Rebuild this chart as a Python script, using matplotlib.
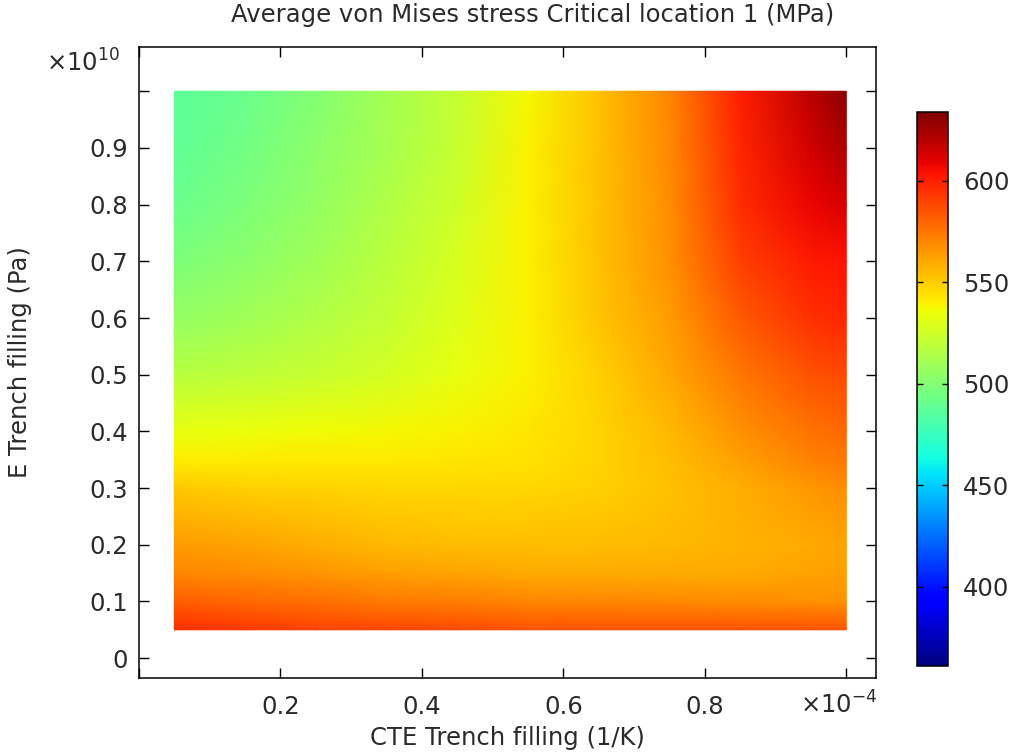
import numpy as np
import matplotlib.pyplot as plt

# CTE (x1e-4 1/K) and E (x1e10 Pa) grid of the sweep
cte = [0.05, 0.15, 0.25, 0.35, 0.45, 0.55, 0.65, 0.75, 0.85, 0.95, 1.0]
e_mod = [0.05, 0.1, 0.15, 0.2, 0.3, 0.35, 0.4, 0.5, 0.6, 0.7, 0.8, 0.9, 1.0]

# average von Mises stress (MPa), rows follow e_mod (bottom -> top)
stress = [
    [596, 593, 590, 589, 588, 586, 585, 585, 585, 585, 585],
    [582, 579, 577, 574, 573, 571, 571, 570, 568, 567, 567],
    [571, 568, 566, 563, 562, 560, 560, 560, 560, 562, 563],
    [564, 562, 559, 556, 555, 555, 555, 556, 558, 560, 562],
    [551, 549, 548, 547, 547, 547, 549, 553, 559, 565, 568],
    [541, 541, 542, 542, 543, 544, 548, 555, 563, 572, 575],
    [533, 534, 536, 538, 540, 543, 548, 556, 567, 576, 579],
    [517, 519, 523, 527, 533, 540, 549, 561, 575, 585, 588],
    [506, 510, 515, 522, 530, 540, 552, 564, 583, 595, 598],
    [498, 503, 510, 518, 528, 540, 553, 567, 591, 601, 604],
    [492, 498, 506, 515, 525, 540, 553, 568, 596, 608, 613],
    [488, 495, 503, 512, 523, 540, 553, 570, 598, 614, 623],
    [487, 492, 500, 511, 522, 538, 553, 571, 600, 620, 631],
]

c_min, c_max = 361, 634
x_ticks = [0.0, 0.2, 0.4, 0.6, 0.8, 1.0]
x_labels = ['', '0.2', '0.4', '0.6', '0.8', '']
y_ticks = [0.0, 0.1, 0.2, 0.3, 0.4, 0.5, 0.6, 0.7, 0.8, 0.9, 1.0]
y_labels = ['0', '0.1', '0.2', '0.3', '0.4', '0.5', '0.6', '0.7', '0.8', '0.9', '']
cb_ticks = [400, 450, 500, 550, 600]

fs = 17.5
tc = '#2a2a2a'
fig = plt.figure(figsize=(10.21, 7.55), dpi=100)
ax = fig.add_axes([0.1361, 0.102, 0.7219, 0.8357])
cax = fig.add_axes([0.898, 0.1179, 0.0304, 0.7338])

X, Y = np.meshgrid(cte, e_mod)
mesh = ax.pcolormesh(X, Y, np.array(stress, dtype=float), shading='gouraud',
                     cmap='jet', vmin=c_min, vmax=c_max)

ax.set_xlim(0.001, 1.042)
ax.set_ylim(-0.035, 1.078)
ax.set_xticks(x_ticks, x_labels)
ax.set_yticks(y_ticks, y_labels)
ax.tick_params(direction='in', length=7.5, width=1.0, top=True, right=True,
               labelsize=fs, colors='black', labelcolor=tc)
ax.tick_params(axis='x', pad=12)
ax.tick_params(axis='y', pad=8)
for s in ax.spines.values():
    s.set_linewidth(1.1)

ax.text(0.99, -0.043, r'$\times10^{-4}$', transform=ax.get_xaxis_transform(),
        ha='center', va='center', fontsize=fs, color=tc)
ax.text(-0.026, 0.975, r'$\times10^{10}$', transform=ax.transAxes,
        ha='right', va='center', fontsize=fs, color=tc)

ax.set_xlabel('CTE Trench filling (1/K)', fontsize=fs, color=tc, va='center')
ax.xaxis.set_label_coords(0.5, -0.095)
ax.set_ylabel('E Trench filling (Pa)', fontsize=fs, color=tc, va='center')
ax.yaxis.set_label_coords(-0.161, 0.5)
fig.text(0.522, 0.980, 'Average von Mises stress Critical location 1 (MPa)',
         ha='center', va='center', fontsize=fs, color=tc)

cb = fig.colorbar(mesh, cax=cax, ticks=cb_ticks)
cb.ax.tick_params(direction='in', length=4, width=1.0, left=True, right=True,
                  labelsize=fs, labelcolor=tc, pad=11)
cb.outline.set_linewidth(1.1)

fig.savefig('out.png', dpi=100)
